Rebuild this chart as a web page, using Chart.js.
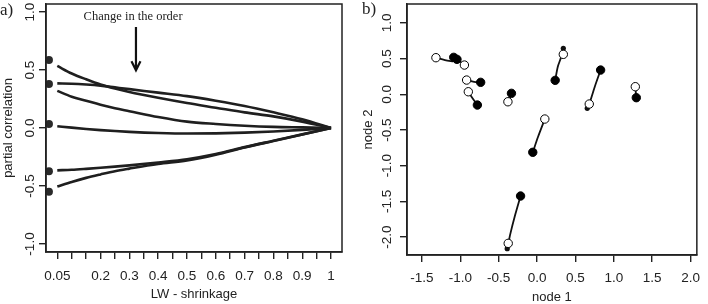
<!DOCTYPE html>
<html>
<head>
<meta charset="utf-8">
<script src="https://cdn.jsdelivr.net/npm/chart.js@4.4.0/dist/chart.umd.min.js"></script>
<style>
  body { margin: 0; background: #fff; }
  #wrap { position: relative; width: 708px; height: 304px; }
  canvas { position: absolute; top: 0; }
</style>
</head>
<body>
<div id="wrap">
  <canvas id="left" width="354" height="304" style="left:0"></canvas>
  <canvas id="right" width="354" height="304" style="left:354px"></canvas>
</div>
<script>
// ---- panel a): partial correlation vs LW shrinkage ----
const shrinkX = [0.05, 0.1, 0.15, 0.2, 0.25, 0.3, 0.4, 0.5, 0.6, 0.7, 0.8, 0.9, 1.0];
const pcA = [0.535, 0.47, 0.42, 0.375, 0.34, 0.31, 0.26, 0.215, 0.175, 0.135, 0.10, 0.055, 0];
const pcB = [0.385, 0.382, 0.375, 0.365, 0.35, 0.335, 0.305, 0.275, 0.235, 0.19, 0.135, 0.075, 0];
const pcC = [0.32, 0.27, 0.235, 0.20, 0.17, 0.145, 0.095, 0.055, 0.035, 0.02, 0.01, 0.005, 0];
const pcD = [0.015, 0.003, -0.008, -0.018, -0.026, -0.033, -0.043, -0.048, -0.046, -0.04, -0.03, -0.016, 0];
const pcE = [-0.365, -0.36, -0.352, -0.343, -0.333, -0.322, -0.298, -0.27, -0.225, -0.165, -0.11, -0.055, 0];
const pcF = [-0.505, -0.465, -0.43, -0.40, -0.372, -0.35, -0.31, -0.28, -0.23, -0.168, -0.112, -0.056, 0];
// sample partial correlations (dots at the left edge)
const sampleX = 0.021;
const sampleY = [0.586, 0.38, 0.034, -0.373, -0.55];

const leftXTicks = [0.05, 0.1, 0.15, 0.2, 0.25, 0.3, 0.35, 0.4, 0.45, 0.5, 0.55, 0.6, 0.65, 0.7, 0.75, 0.8, 0.85, 0.9, 0.95, 1.0];
const leftXText = ['0.05', '', '', '0.2', '', '0.3', '', '0.4', '', '0.5', '', '0.6', '', '0.7', '', '0.8', '', '0.9', '', '1'];
const leftYTicks = [-1, -0.5, 0, 0.5, 1];
const leftYText = ['-1.0', '-0.5', '0.0', '0.5', '1.0'];

// ---- panel b): node 1 / node 2 positions ----
const blackX = [-1.086, -1.044, -0.735, -0.778, -0.334, 0.236, 0.828, 1.293, -0.056, -0.215];
const blackY = [0.518, 0.49, 0.168, -0.15, 0.014, 0.196, 0.34, -0.047, -0.812, -1.424];
const whiteX = [-1.318, -0.947, -0.918, -0.896, -0.38, 0.342, 0.68, 1.28, 0.101, -0.376];
const whiteY = [0.513, 0.41, 0.2, 0.036, -0.104, 0.56, -0.136, 0.107, -0.346, -2.087];
const smallX = [0.342, -0.389, 0.654];
const smallY = [0.644, -2.162, -0.196];
// trajectories between the two positions
const pathX = [
  [-1.318, -1.2, -1.09],
  [-1.044, -0.96, -0.935],
  [-0.918, -0.82, -0.735],
  [-0.896, -0.85, -0.778],
  [-0.334, -0.36, -0.38],
  [0.236, 0.27, 0.308, 0.342],
  [0.828, 0.752, 0.68, 0.654],
  [1.28, 1.293],
  [-0.056, 0.013, 0.101],
  [-0.215, -0.292, -0.347, -0.389]
];
const pathY = [
  [0.513, 0.48, 0.46],
  [0.49, 0.42, 0.36],
  [0.2, 0.175, 0.168],
  [0.036, -0.04, -0.15],
  [0.014, -0.05, -0.104],
  [0.196, 0.387, 0.504, 0.644],
  [0.34, 0.107, -0.136, -0.196],
  [0.107, -0.047],
  [-0.812, -0.594, -0.346],
  [-1.424, -1.714, -1.947, -2.162]
];
const rightXTicks = [-1.5, -1.0, -0.5, 0, 0.5, 1.0, 1.5, 2.0];
const rightYTicks = [-2.0, -1.5, -1.0, -0.5, 0, 0.5, 1.0];

const sans = '"Liberation Sans", Arial, sans-serif';
const ink = '#222';

// R-like framing: box, rotated y labels, axis titles, panel letter
const rText = {
  id: 'rText',
  afterDraw(chart, args, o) {
    const { ctx, chartArea: a, scales } = chart;
    ctx.save();
    ctx.strokeStyle = ink;
    ctx.lineWidth = 1.5;
    ctx.strokeRect(a.left, a.top, a.right - a.left, a.bottom - a.top);
    ctx.fillStyle = ink;
    ctx.font = '13.5px ' + sans;
    ctx.textAlign = 'center';
    ctx.textBaseline = 'middle';
    o.yTicks.forEach((v, i) => {
      ctx.save();
      ctx.translate(o.yLabelX, scales.y.getPixelForValue(v));
      ctx.rotate(-Math.PI / 2);
      ctx.fillText(o.yText[i], 0, 0);
      ctx.restore();
    });
    ctx.font = '13px ' + sans;
    ctx.save();
    ctx.translate(o.yTitleX, (a.top + a.bottom) / 2);
    ctx.rotate(-Math.PI / 2);
    ctx.fillText(o.yTitle, 0, 0);
    ctx.restore();
    ctx.fillText(o.xTitle, (a.left + a.right) / 2, o.xTitleY);

    ctx.font = '17px "Liberation Serif", "Times New Roman", serif';
    ctx.textAlign = 'left';
    ctx.textBaseline = 'alphabetic';
    ctx.fillText(o.panel, o.panelX, o.panelY);

    if (o.note) {
      const nx = scales.x.getPixelForValue(o.note.x);
      ctx.font = '12.5px "Liberation Serif", "Times New Roman", serif';
      ctx.textAlign = 'center';
      ctx.fillText(o.note.text, nx, o.note.textY);
      const ax = scales.x.getPixelForValue(o.note.arrowX);
      const y1 = scales.y.getPixelForValue(o.note.from);
      const y2 = scales.y.getPixelForValue(o.note.to);
      ctx.lineWidth = 2.2;
      ctx.strokeStyle = '#111';
      ctx.beginPath();
      ctx.moveTo(ax, y1);
      ctx.lineTo(ax, y2);
      ctx.moveTo(ax - 4.5, y2 - 9);
      ctx.lineTo(ax, y2);
      ctx.lineTo(ax + 4.5, y2 - 9);
      ctx.stroke();
    }
    ctx.restore();
  }
};

function axisX(min, max, ticks, text, height, pad) {
  return {
    type: 'linear', min, max,
    afterBuildTicks: s => { s.ticks = ticks.map(v => ({ value: v })); },
    afterFit: s => { s.height = height; },
    ticks: {
      autoSkip: false, maxRotation: 0, minRotation: 0, padding: pad,
      color: ink, font: { family: sans, size: 13.5 },
      callback: (v, i) => text[i]
    },
    grid: { drawOnChartArea: false, drawTicks: true, tickLength: 7, color: ink, lineWidth: 1.4 },
    border: { display: true, color: ink, width: 1.5 }
  };
}
function axisY(min, max, ticks, width) {
  return {
    type: 'linear', min, max,
    afterBuildTicks: s => { s.ticks = ticks.map(v => ({ value: v })); },
    afterFit: s => { s.width = width; },
    ticks: { display: false },
    grid: { drawOnChartArea: false, drawTicks: true, tickLength: 7, color: ink, lineWidth: 1.4 },
    border: { display: true, color: ink, width: 1.5 }
  };
}

const curve = vals => ({
  type: 'line',
  data: shrinkX.map((x, i) => ({ x, y: vals[i] })),
  borderColor: '#1f1f1f', borderWidth: 2.6, pointRadius: 0,
  cubicInterpolationMode: 'monotone', fill: false, order: 2
});

new Chart('left', {
  type: 'scatter',
  data: {
    datasets: [
      { data: sampleY.map(y => ({ x: sampleX, y })), backgroundColor: '#2a2a2a', borderWidth: 0, pointRadius: 4, order: 1 },
      curve(pcA), curve(pcB), curve(pcC), curve(pcD), curve(pcE), curve(pcF)
    ]
  },
  options: {
    responsive: false, animation: false, events: [],
    layout: { autoPadding: false, padding: { top: 4, right: 12, left: 0, bottom: 0 } },
    scales: {
      x: axisX(0.0108, 1.038, leftXTicks, leftXText, 52, 9),
      y: axisY(-1.069, 1.069, leftYTicks, 46)
    },
    plugins: {
      legend: { display: false }, tooltip: { enabled: false },
      rText: {
        yTicks: leftYTicks, yText: leftYText, yLabelX: 30,
        yTitle: 'partial correlation', yTitleX: 8,
        xTitle: 'LW - shrinkage', xTitleY: 294,
        panel: 'a)', panelX: 0, panelY: 15,
        note: { text: 'Change in the order', x: 0.313, textY: 20, arrowX: 0.323, from: 0.87, to: 0.497 }
      }
    }
  },
  plugins: [rText]
});

const paths = pathX.map((xs, k) => ({
  type: 'line',
  data: xs.map((x, i) => ({ x, y: pathY[k][i] })),
  borderColor: '#111', borderWidth: 1.8, pointRadius: 0, tension: 0.3, fill: false, order: 4
}));

new Chart('right', {
  type: 'scatter',
  data: {
    datasets: [
      { data: whiteX.map((x, i) => ({ x, y: whiteY[i] })), backgroundColor: '#fff', borderColor: '#000', borderWidth: 1, pointRadius: 4.2, order: 0 },
      { data: blackX.map((x, i) => ({ x, y: blackY[i] })), backgroundColor: '#000', borderColor: '#000', borderWidth: 1, pointRadius: 4.2, order: 1 },
      { data: smallX.map((x, i) => ({ x, y: smallY[i] })), backgroundColor: '#111', borderWidth: 0, pointRadius: 2.6, order: 3 },
      ...paths
    ]
  },
  options: {
    responsive: false, animation: false, events: [],
    layout: { autoPadding: false, padding: { top: 4, right: 3, left: 0, bottom: 0 } },
    scales: {
      x: axisX(-1.695, 2.082, rightXTicks, rightXTicks.map(v => v.toFixed(1)), 49, 8),
      y: axisY(-2.25, 1.265, rightYTicks, 53)
    },
    plugins: {
      legend: { display: false }, tooltip: { enabled: false },
      rText: {
        yTicks: rightYTicks, yText: rightYTicks.map(v => v.toFixed(1)), yLabelX: 33,
        yTitle: 'node 2', yTitleX: 14,
        xTitle: 'node 1', xTitleY: 297,
        panel: 'b)', panelX: 8, panelY: 14
      }
    }
  },
  plugins: [rText]
});
</script>
</body>
</html>
